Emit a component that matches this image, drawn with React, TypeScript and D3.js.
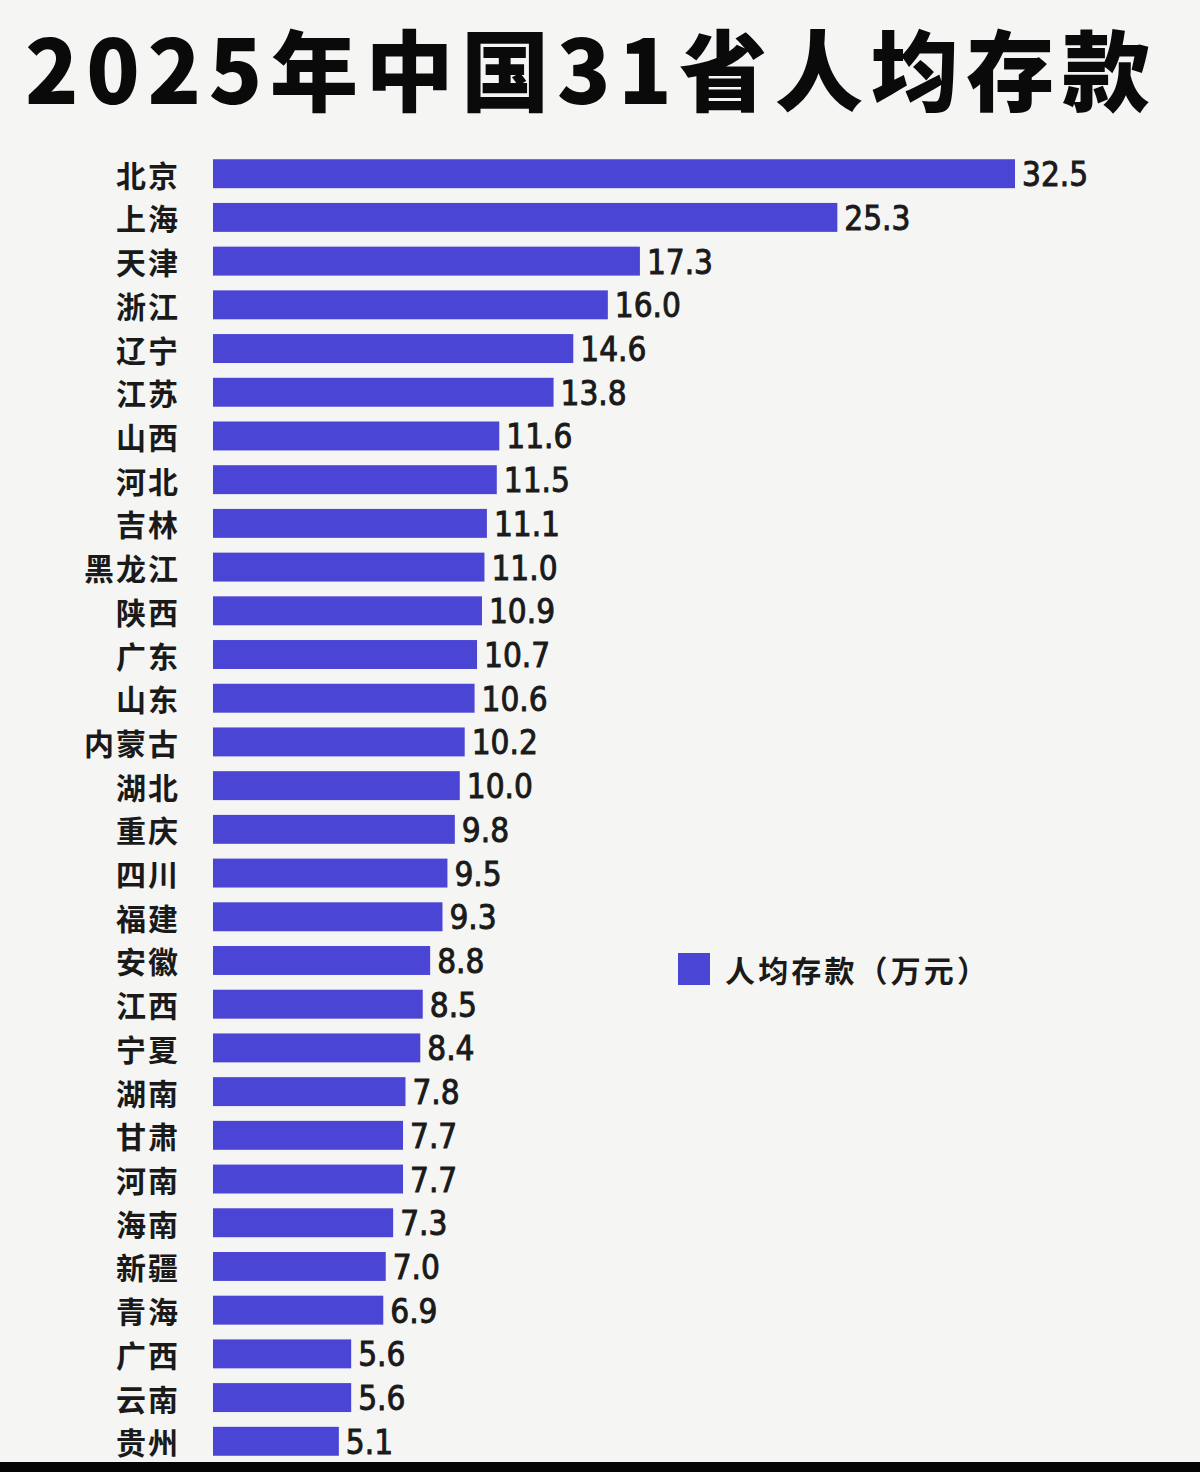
import React from "react";
import * as d3 from "d3";

const provinces: string[] = [
  "北京", "上海", "天津", "浙江", "辽宁", "江苏", "山西", "河北", "吉林", "黑龙江",
  "陕西", "广东", "山东", "内蒙古", "湖北", "重庆", "四川", "福建", "安徽", "江西",
  "宁夏", "湖南", "甘肃", "河南", "海南", "新疆", "青海", "广西", "云南", "贵州",
];
const deposits: number[] = [
  32.5, 25.3, 17.3, 16.0, 14.6, 13.8, 11.6, 11.5, 11.1, 11.0,
  10.9, 10.7, 10.6, 10.2, 10.0, 9.8, 9.5, 9.3, 8.8, 8.5,
  8.4, 7.8, 7.7, 7.7, 7.3, 7.0, 6.9, 5.6, 5.6, 5.1,
];
const title = "2025年中国31省人均存款";
const legendLabel = "人均存款（万元）";

const W = 1200;
const H = 1472;
const BAR = "#4b45d6";
const TEXT = "#1a1a1a";

export default function App() {
  const rows = provinces.map((p, i) => ({ name: p, value: deposits[i] }));
  const x = d3.scaleLinear().domain([0, 32.5]).range([213, 1015]);
  const y = d3
    .scaleBand<string>()
    .domain(provinces)
    .range([151.85, 151.85 + 42.3 * 31])
    .paddingInner(0.338)
    .paddingOuter(0.169);
  const bw = y.bandwidth();

  return (
    <div style={{ position: "absolute", left: 0, top: 0, width: W, height: H }}>
      <svg width={W} height={H} viewBox={`0 0 ${W} ${H}`} style={{ display: "block" }}>
        <rect x={0} y={0} width={W} height={H} fill="#f5f5f3" />
        <text
          x={25}
          y={104}
          fontFamily="'Noto Sans CJK SC', 'Noto Sans', sans-serif"
          fontWeight={900}
          fontSize={88}
          fill="#0a0a0a"
          textLength={1125}
          lengthAdjust="spacing"
        >
          {title}
        </text>
        {rows.map((d) => {
          const yc = (y(d.name) as number) + bw / 2;
          return (
            <g key={d.name}>
              <text
                x={180}
                y={yc}
                textAnchor="end"
                dominantBaseline="central"
                fontFamily="'Noto Sans CJK SC', sans-serif"
                fontWeight={700}
                fontSize={30}
                letterSpacing={2}
                fill={TEXT}
              >
                {d.name}
              </text>
              <rect x={x(0)} y={y(d.name)} width={x(d.value) - x(0)} height={bw} fill={BAR} />
              <text
                x={x(d.value) + 7}
                y={yc + 1}
                dominantBaseline="central"
                fontFamily="'DejaVu Sans Condensed', 'DejaVu Sans', sans-serif"
                fontStretch="condensed"
                fontWeight={400}
                fontSize={33}
                fill={TEXT}
                stroke={TEXT}
                strokeWidth={0.9}
              >
                {d.value.toFixed(1)}
              </text>
            </g>
          );
        })}
        <rect x={678} y={953} width={32} height={32} fill={BAR} />
        <text
          x={725}
          y={969}
          dominantBaseline="central"
          fontFamily="'Noto Sans CJK SC', sans-serif"
          fontWeight={700}
          fontSize={30}
          fill={TEXT}
          textLength={262}
          lengthAdjust="spacing"
        >
          {legendLabel}
        </text>
        <rect x={0} y={1462} width={W} height={H - 1462} fill="#050505" />
      </svg>
    </div>
  );
}
